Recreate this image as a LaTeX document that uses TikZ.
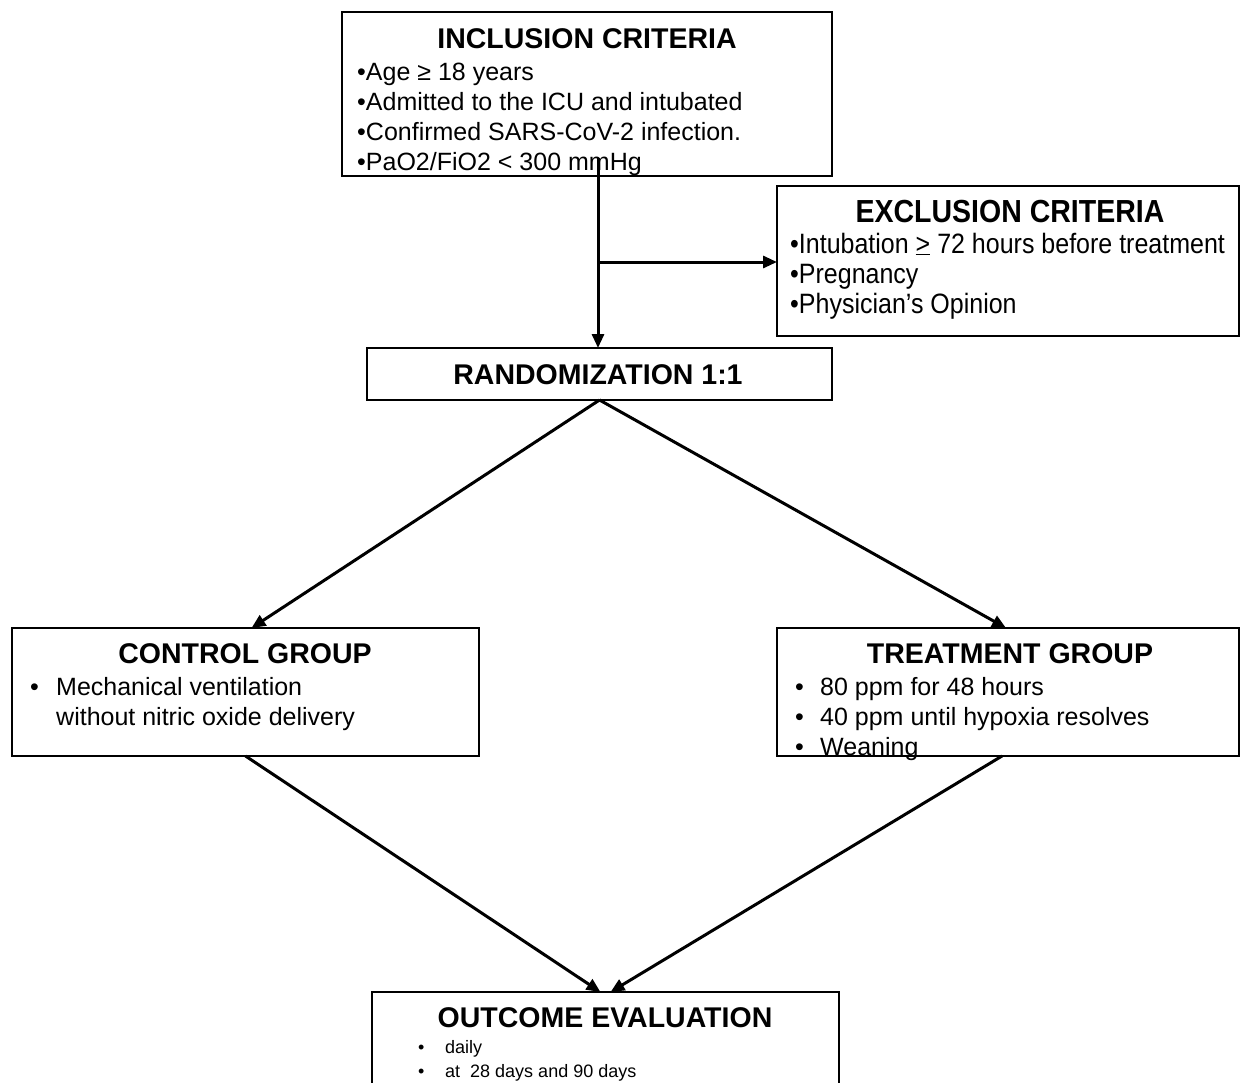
\documentclass[tikz,border=0pt]{standalone}
\usepackage{fontspec}
\usepackage{graphicx}
\setmainfont{Liberation Sans}
\usetikzlibrary{arrows.meta}
\begin{document}
\begin{tikzpicture}[x=1pt,y=-1pt,
  box/.style={draw, line width=2.4pt, inner sep=0pt, outer sep=0pt, rectangle},
  conn/.style={line width=3pt, -{Triangle[length=14pt,width=12pt]}},
  ttl/.style={font=\fontsize{28.5}{34}\selectfont\bfseries, inner sep=0pt, anchor=base},
  txt/.style={font=\fontsize{25}{30}\selectfont, inner sep=0pt, anchor=base west},
  sml/.style={font=\fontsize{18}{24}\selectfont, inner sep=0pt, anchor=base west}]
\useasboundingbox (0,0) rectangle (1241,1082);

% boxes
\node[box, minimum width=490pt, minimum height=164pt] (inc) at (587,94) {};
\node[box, minimum width=462pt, minimum height=150pt] (exc) at (1008,261) {};
\node[box, minimum width=465pt, minimum height=52pt] (rand) at (599.5,374) {};
\node[box, minimum width=467pt, minimum height=128pt] (ctl) at (245.5,692) {};
\node[box, minimum width=462pt, minimum height=128pt] (trt) at (1008,692) {};
\node[box, minimum width=467pt, minimum height=108pt] (out) at (605.5,1046) {};

% inclusion text
\node[ttl] (inct) at (587,48) {INCLUSION CRITERIA};
\node[txt] (inc1) at (357,80) {•Age ≥ 18 years};
\node[txt] (inc2) at (357,110) {•Admitted to the ICU and intubated};
\node[txt] (inc3) at (357,140) {•Confirmed SARS-CoV-2 infection.};
\node[txt] (inc4) at (357,170) {•PaO2/FiO2 < 300 mmHg};

% exclusion text
\node[ttl] (exct) at (1010,222) {\scalebox{1}[1.12]{EXCLUSION CRITERIA}};
\node[txt] (exc1) at (790,253) {\scalebox{1}[1.12]{•Intubation \underline{>} 72 hours before treatment}};
\node[txt] (exc2) at (790,283) {\scalebox{1}[1.12]{•Pregnancy}};
\node[txt] (exc3) at (790,313) {\scalebox{1}[1.12]{•Physician’s Opinion}};

% randomization
\node[ttl] (randt) at (598,384) {RANDOMIZATION 1:1};

% control
\node[ttl] (ctlt) at (245,663) {CONTROL GROUP};
\node[txt] (ctlb1) at (30,695) {•};
\node[txt] (ctl1) at (56,695) {Mechanical ventilation};
\node[txt] (ctl2) at (56,725) {without nitric oxide delivery};

% treatment
\node[ttl] (trtt) at (1010,663) {TREATMENT GROUP};
\node[txt] (trtb1) at (795,695) {•};
\node[txt] (trt1) at (820,695) {80 ppm for 48 hours};
\node[txt] (trtb2) at (795,725) {•};
\node[txt] (trt2) at (820,725) {40 ppm until hypoxia resolves};
\node[txt] (trtb3) at (795,755) {•};
\node[txt] (trt3) at (820,755) {Weaning};

% outcome
\node[ttl] (outt) at (605,1027) {OUTCOME EVALUATION};
\node[sml] (outb1) at (418,1053) {•};
\node[sml] (out1) at (445,1053) {daily};
\node[sml] (outb2) at (418,1077) {•};
\node[sml] (out2) at (445,1077) {at\ \ 28 days and 90 days};

% connectors
\coordinate (s) at (598,158);
\coordinate (j) at (598,262);
\draw[conn] (s) -- (s |- rand.north);
\draw[conn] (j) -- (j -| exc.west);
\draw[conn] (rand.south) -- ([xshift=6pt]ctl.north);
\draw[conn] (rand.south) -- ([xshift=-2pt]trt.north);
\draw[conn] (ctl.south) -- ([xshift=-5pt]out.north);
\draw[conn] ([xshift=-6pt]trt.south) -- ([xshift=5pt]out.north);
\end{tikzpicture}
\end{document}
